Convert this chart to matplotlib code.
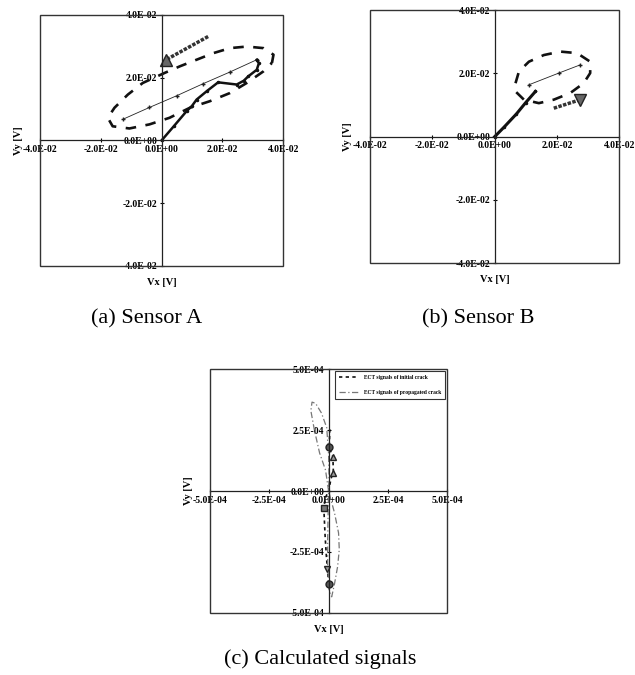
import matplotlib
matplotlib.use("Agg")
import matplotlib.pyplot as plt
from matplotlib.patches import Rectangle
from matplotlib.ticker import FixedLocator, FuncFormatter

plt.rcParams['font.family'] = ['Liberation Serif', 'DejaVu Serif']

# ---------------- Data (Sensor A, units x1e-2 V) ----------------
a_loop_x = [3.63, 3.68, 3.35, 2.80, 2.25, 1.70, 1.15, 0.60, 0.10, -0.62, -1.11, -1.55, -1.77,
            -1.61, -1.06, -0.40, 0.26, 0.93, 1.59, 2.25, 2.80, 3.35, 3.63]
a_loop_y = [2.47, 2.73, 2.94, 2.99, 2.94, 2.78, 2.57, 2.36, 2.15, 1.83, 1.46, 1.04, 0.72,
            0.45, 0.38, 0.51, 0.72, 1.04, 1.25, 1.51, 1.83, 2.20, 2.47]
a_thin_x = [-1.28, -0.40, 0.49, 1.35, 2.25, 3.13]
a_thin_y = [0.67, 1.05, 1.42, 1.80, 2.18, 2.57]
a_thick_x = [0.00, 0.40, 0.82, 1.00, 1.15, 1.50, 1.86, 2.47, 2.70, 2.85, 3.13, 3.20, 3.13]
a_thick_y = [0.00, 0.45, 0.93, 1.10, 1.30, 1.58, 1.85, 1.78, 1.90, 2.04, 2.25, 2.46, 2.57]
a_arrow_x = [1.53, 0.15]
a_arrow_y = [3.31, 2.57]

# ---------------- Data (Sensor B, units x1e-2 V) ----------------
b_loop_x = [0.67, 0.78, 1.10, 1.58, 2.11, 2.65, 3.07, 3.07, 2.86, 2.43, 1.90, 1.42, 0.94,
            0.67, 0.67]
b_loop_y = [1.69, 2.06, 2.37, 2.58, 2.69, 2.64, 2.37, 2.01, 1.69, 1.38, 1.17, 1.06, 1.17,
            1.43, 1.69]
b_thin_x = [1.10, 2.06, 2.75]
b_thin_y = [1.64, 2.01, 2.27]
b_thick_x = [0.00, 0.30, 0.70, 1.00, 1.31]
b_thick_y = [0.00, 0.30, 0.72, 1.08, 1.43]
b_arrow_x = [1.90, 2.75]
b_arrow_y = [0.90, 1.17]

# ---------------- Data (Calculated signals, units x1e-4 V) ----------------
c_prop_x = [0.00, -0.13, -0.38, -0.60, -0.75, -0.70, -0.55, -0.30, -0.08, 0.00, 0.02, 0.00,
            0.25, 0.42, 0.45, 0.38, 0.25, 0.13, 0.02, -0.04, -0.04, -0.02, 0.00]
c_prop_y = [0.00, 0.86, 1.56, 2.50, 3.30, 3.65, 3.60, 3.20, 2.60, 1.50, 0.50, 0.00,
            -0.90, -1.72, -2.40, -3.10, -3.80, -4.34, -4.10, -3.00, -2.00, -0.80, 0.00]
c_init_x = [0.00, -0.05, -0.10, -0.15, -0.20, -0.15, 0.00, 0.10, 0.20, 0.18, 0.10, 0.03, 0.05]
c_init_y = [-3.80, -3.20, -2.60, -1.80, -0.75, -0.30, 0.00, 0.50, 0.80, 1.40, 1.60, 1.80, 2.60]
c_circ_x = [0.00, 0.00]
c_circ_y = [1.80, -3.80]
c_tri_x = [0.20, 0.20]
c_tri_y = [1.40, 0.75]
c_sq_x = [-0.20]
c_sq_y = [-0.70]
c_vtri_x = [-0.08]
c_vtri_y = [-3.20]

ticks_ab = [-0.04, -0.02, 0.0, 0.02, 0.04]
ticks_c = [-5e-4, -2.5e-4, 0.0, 2.5e-4, 5e-4]
legend_labels = ["ECT signals of initial crack", "ECT signals of propagated crack"]
captions = ["(a) Sensor A", "(b) Sensor B", "(c) Calculated signals"]

fig = plt.figure(figsize=(6.35, 6.75), dpi=100)
fmt = FuncFormatter(lambda v, p: f"{v:.1E}")

def setup(ax, lim, ticks):
    ax.set_xlim(-lim, lim)
    ax.set_ylim(-lim, lim)
    for s in ['top', 'right']:
        ax.spines[s].set_visible(False)
    for s in ['left', 'bottom']:
        ax.spines[s].set_position('zero')
        ax.spines[s].set_color('#222222')
        ax.spines[s].set_linewidth(0.9)
    ax.add_patch(Rectangle((0, 0), 1, 1, transform=ax.transAxes, fill=False,
                           edgecolor='#333333', lw=1.0, zorder=5, clip_on=False))
    ax.xaxis.set_major_locator(FixedLocator(ticks))
    ax.yaxis.set_major_locator(FixedLocator(ticks))
    ax.xaxis.set_major_formatter(fmt)
    ax.yaxis.set_major_formatter(fmt)
    ax.tick_params(labelsize=7, length=2.5, width=0.8, direction='inout', pad=2,
                   colors='black')
    for lab in ax.get_xticklabels() + ax.get_yticklabels():
        lab.set_fontweight('bold')

def axlabels(ax, xy_pos_y, vy_pos_x):
    ax.text(0.5, xy_pos_y, "Vx [V]", transform=ax.transAxes, ha='center', va='center',
            fontsize=7.5, fontweight='bold')
    ax.text(vy_pos_x, 0.5, "Vy [V]", transform=ax.transAxes, ha='center', va='center',
            fontsize=7.5, fontweight='bold', rotation=90)

s2 = 1e-2
# ---- A ----
axA = fig.add_axes([0.063, 0.606, 0.383, 0.372])
setup(axA, 0.04, ticks_ab)
axA.plot([v * s2 for v in a_loop_x], [v * s2 for v in a_loop_y], color='#111111', lw=1.9,
         dashes=(4.0, 3.6))
axA.plot([v * s2 for v in a_thin_x], [v * s2 for v in a_thin_y], color='#222222', lw=0.6,
         marker='+', ms=3)
axA.plot([v * s2 for v in a_thick_x], [v * s2 for v in a_thick_y], color='#111111', lw=1.8,
         marker='.', ms=3)
axA.plot([v * s2 for v in a_arrow_x], [v * s2 for v in a_arrow_y], color='#333333', lw=2.5,
         ls=(0, (1, 0.4)))
axA.plot([a_arrow_x[-1] * s2], [a_arrow_y[-1] * s2], marker='^', ms=9, color='#666666',
         mec='#222222')
axlabels(axA, -0.065, -0.09)

# ---- B ----
axB = fig.add_axes([0.583, 0.610, 0.392, 0.375])
setup(axB, 0.04, ticks_ab)
axB.plot([v * s2 for v in b_loop_x], [v * s2 for v in b_loop_y], color='#111111', lw=1.9,
         dashes=(4.0, 3.6))
axB.plot([v * s2 for v in b_thin_x], [v * s2 for v in b_thin_y], color='#222222', lw=0.6,
         marker='+', ms=3)
axB.plot([v * s2 for v in b_thick_x], [v * s2 for v in b_thick_y], color='#111111', lw=2.2,
         marker='.', ms=3)
axB.plot([v * s2 for v in b_arrow_x], [v * s2 for v in b_arrow_y], color='#333333', lw=2.5,
         ls=(0, (1, 0.4)))
axB.plot([b_arrow_x[-1] * s2], [b_arrow_y[-1] * s2], marker='v', ms=9, color='#666666',
         mec='#222222')
axlabels(axB, -0.065, -0.09)

# ---- C ----
s4 = 1e-4
axC = fig.add_axes([0.331, 0.092, 0.373, 0.361])
setup(axC, 5e-4, ticks_c)
axC.plot([v * s4 for v in c_init_x], [v * s4 for v in c_init_y], color='#111111', lw=1.2,
         ls=(0, (2, 2)), label=legend_labels[0])
axC.plot([v * s4 for v in c_prop_x], [v * s4 for v in c_prop_y], color='#777777', lw=0.9,
         ls=(0, (5, 2, 1, 2)), label=legend_labels[1])
axC.plot([v * s4 for v in c_circ_x], [v * s4 for v in c_circ_y], 'o', ms=5, color='#555555',
         mec='#222222')
axC.plot([v * s4 for v in c_tri_x], [v * s4 for v in c_tri_y], '^', ms=5, color='#999999',
         mec='#222222')
axC.plot([v * s4 for v in c_sq_x], [v * s4 for v in c_sq_y], 's', ms=4.5, color='#777777',
         mec='#222222')
axC.plot([v * s4 for v in c_vtri_x], [v * s4 for v in c_vtri_y], 'v', ms=5, color='#999999',
         mec='#222222')
leg = axC.legend(loc='upper right', fontsize=4.0, frameon=True, fancybox=False,
                 edgecolor='black', borderpad=0.8, labelspacing=1.7, handlelength=3.6,
                 borderaxespad=0.3)
leg.get_frame().set_linewidth(0.8)
for t in leg.get_texts():
    t.set_fontweight('bold')
axlabels(axC, -0.07, -0.09)

# ---- captions ----
fig.text(147 / 635, 1 - 319 / 675, captions[0], ha='center', va='center', fontsize=16)
fig.text(478 / 635, 1 - 319 / 675, captions[1], ha='center', va='center', fontsize=16)
fig.text(320 / 635, 1 - 659 / 675, captions[2], ha='center', va='center', fontsize=16)

fig.savefig("out.png", dpi=100)
